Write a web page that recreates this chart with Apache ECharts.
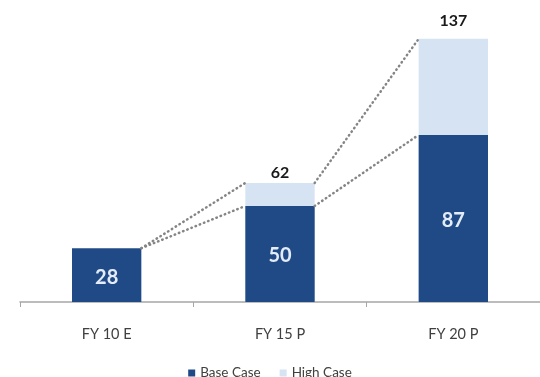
<!DOCTYPE html>
<html>
<head>
<meta charset="utf-8">
<script src="https://cdn.jsdelivr.net/npm/echarts@6/dist/echarts.min.js"></script>
<style>
  html, body { margin: 0; padding: 0; background: #ffffff; }
  #chart { width: 540px; height: 377px; }
</style>
</head>
<body>
<div id="chart"></div>
<script>
// Fiscal-year categories and the two scenarios
const categories = ['FY 10 E', 'FY 15 P', 'FY 20 P'];
const baseCase = [28, 50, 87];
const highCaseTotal = [null, 62, 137];
const legendNames = ['Base Case', 'High Case'];

const BAR_RATIO = 0.4;

// Dotted connectors from the right edge of one bar to the left edge of the next
const connectors = [];
for (let i = 0; i < categories.length - 1; i++) {
  const fromTop = highCaseTotal[i] != null ? highCaseTotal[i] : baseCase[i];
  const toTop = highCaseTotal[i + 1] != null ? highCaseTotal[i + 1] : baseCase[i + 1];
  connectors.push([i, fromTop, i + 1, toTop]);
  connectors.push([i, baseCase[i], i + 1, baseCase[i + 1]]);
}

const chart = echarts.init(document.getElementById('chart'));
chart.setOption({
  animation: false,
  backgroundColor: '#ffffff',
  textStyle: { fontFamily: 'Lato, "Open Sans", sans-serif' },
  grid: { left: 20, right: 0, top: 35, bottom: 75 },
  legend: {
    data: legendNames,
    top: 361,
    left: 'center',
    icon: 'rect',
    itemWidth: 7,
    itemHeight: 7,
    itemGap: 19,
    textStyle: { fontSize: 13.5, color: '#404040', fontFamily: 'Lato, sans-serif' }
  },
  xAxis: {
    type: 'category',
    data: categories,
    axisLine: { lineStyle: { color: '#a6a6a6', width: 1.5 } },
    axisTick: { show: true, length: 5, lineStyle: { color: '#a6a6a6' } },
    axisLabel: { color: '#404040', fontSize: 14.5, margin: 25 }
  },
  yAxis: {
    type: 'value',
    min: 0,
    max: 139,
    show: false,
    splitLine: { show: false }
  },
  series: [
    {
      name: 'High Case',
      type: 'bar',
      barWidth: (BAR_RATIO * 100) + '%',
      data: highCaseTotal.map((v, i) => v == null ? null : {
        value: v,
        label: { distance: i === 2 ? 10 : 2 }
      }),
      itemStyle: { color: '#d5e3f3' },
      label: {
        show: true,
        position: 'top',
        color: '#1a1a1a',
        fontSize: 16,
        fontWeight: 'bold'
      },
      z: 2
    },
    {
      name: 'Base Case',
      type: 'bar',
      barWidth: (BAR_RATIO * 100) + '%',
      barGap: '-100%',
      data: baseCase,
      itemStyle: { color: '#1f4a86' },
      label: {
        show: true,
        position: 'inside',
        offset: [0, 2],
        color: '#e3ecf7',
        fontSize: 20,
        fontWeight: 'bold'
      },
      z: 3
    },
    {
      name: 'connectors',
      type: 'custom',
      data: connectors,
      encode: { x: [0, 2], y: [1, 3] },
      silent: true,
      z: 4,
      renderItem: function (params, api) {
        const p1 = api.coord([api.value(0), api.value(1)]);
        const p2 = api.coord([api.value(2), api.value(3)]);
        const half = api.size([1, 0])[0] * BAR_RATIO / 2;
        return {
          type: 'line',
          shape: { x1: p1[0] + half, y1: p1[1], x2: p2[0] - half, y2: p2[1] },
          style: {
            stroke: '#858585',
            lineWidth: 2.5,
            lineDash: [0.5, 4],
            lineCap: 'round',
            fill: null
          }
        };
      }
    }
  ]
});
</script>
</body>
</html>
